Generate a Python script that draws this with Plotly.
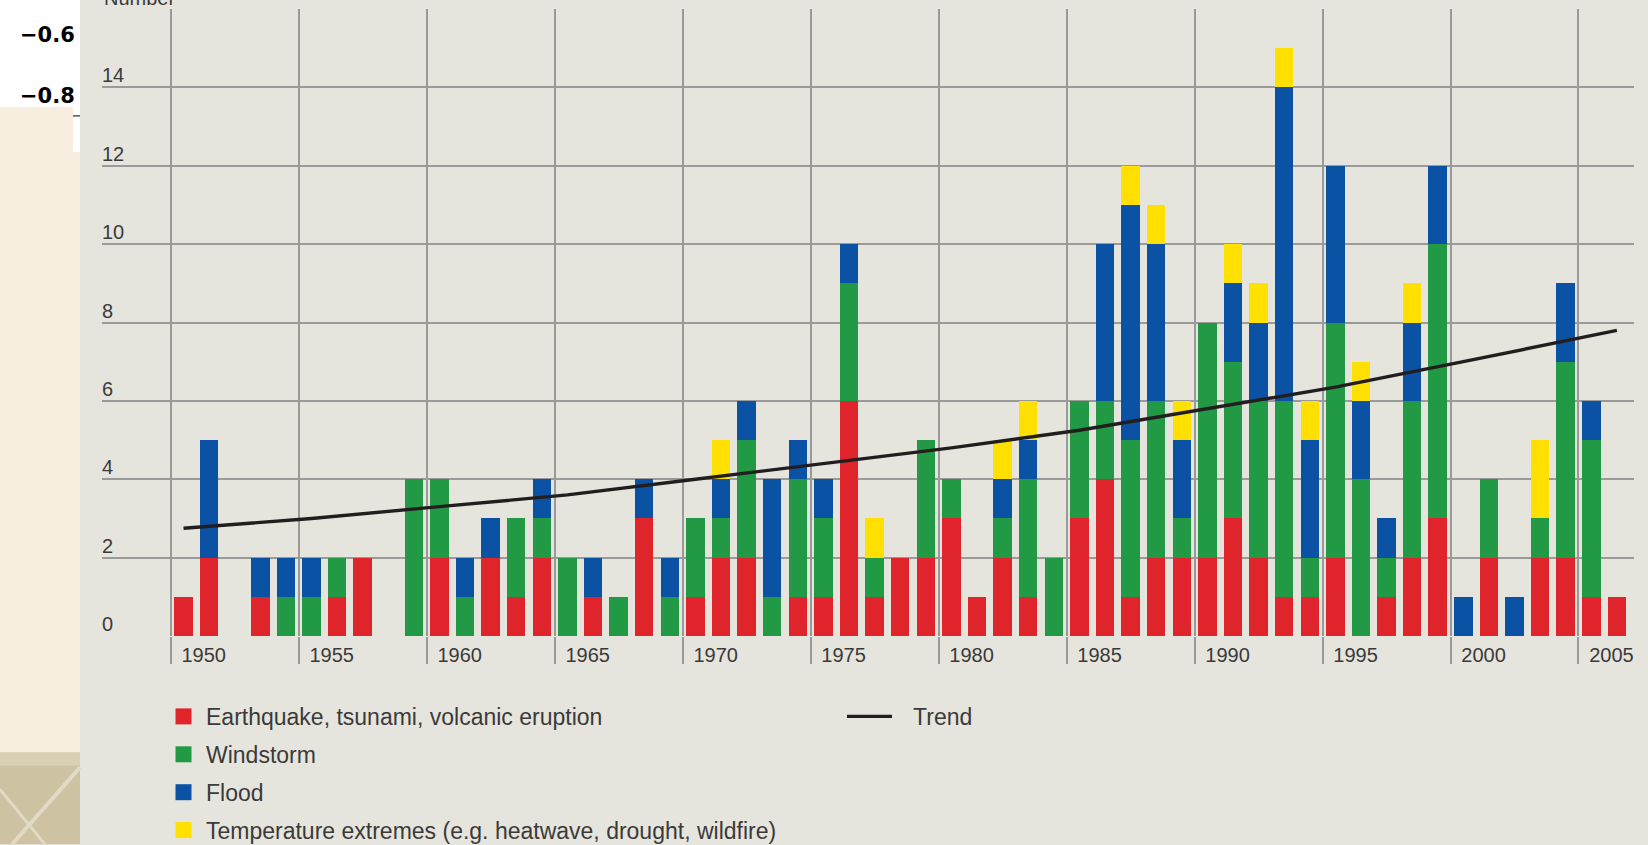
import plotly.graph_objects as go

# ---------------- data ----------------
years = list(range(1950, 2007))

earthquake = [1, 2, 0, 1, 0, 0, 1, 2, 0, 0,
              2, 0, 2, 1, 2, 0, 1, 0, 3, 0,
              1, 2, 2, 0, 1, 1, 6, 1, 2, 2,
              3, 1, 2, 1, 0, 3, 4, 1, 2, 2,
              2, 3, 2, 1, 1, 2, 0, 1, 2, 3,
              0, 2, 0, 2, 2, 1, 1]
windstorm = [0, 0, 0, 0, 1, 1, 1, 0, 0, 4,
             2, 1, 0, 2, 1, 2, 0, 1, 0, 1,
             2, 1, 3, 1, 3, 2, 3, 1, 0, 3,
             1, 0, 1, 3, 2, 3, 2, 4, 4, 1,
             6, 4, 4, 5, 1, 6, 4, 1, 4, 7,
             0, 2, 0, 1, 5, 4, 0]
flood = [0, 3, 0, 1, 1, 1, 0, 0, 0, 0,
         0, 1, 1, 0, 1, 0, 1, 0, 1, 1,
         0, 1, 1, 3, 1, 1, 1, 0, 0, 0,
         0, 0, 1, 1, 0, 0, 4, 6, 4, 2,
         0, 2, 2, 8, 3, 4, 2, 1, 2, 2,
         1, 0, 1, 0, 2, 1, 0]
temperature = [0, 0, 0, 0, 0, 0, 0, 0, 0, 0,
               0, 0, 0, 0, 0, 0, 0, 0, 0, 0,
               0, 1, 0, 0, 0, 0, 0, 1, 0, 0,
               0, 0, 1, 1, 0, 0, 0, 1, 1, 1,
               0, 1, 1, 1, 1, 0, 1, 0, 1, 0,
               0, 0, 0, 2, 0, 0, 0]

trend_years = [1950, 1955, 1960, 1965, 1970, 1975, 1980, 1985, 1990, 1995, 2000, 2005, 2006]
trend_values = [2.75, 3.0, 3.3, 3.6, 4.0, 4.4, 4.8, 5.25, 5.8, 6.35, 7.0, 7.65, 7.8]

label_years = [1950, 1955, 1960, 1965, 1970, 1975, 1980, 1985, 1990, 1995, 2000, 2005]
y_ticks = [0, 2, 4, 6, 8, 10, 12, 14, 16]
y_ticktext = ["0", "2", "4", "6", "8", "10", "12", "14", ""]

series_names = ["Earthquake, tsunami, volcanic eruption", "Windstorm", "Flood",
                "Temperature extremes (e.g. heatwave, drought, wildfire)"]
series_values = [earthquake, windstorm, flood, temperature]
series_colors = ["#e0242b", "#229a45", "#0b52a5", "#ffe000"]

# ---------------- styling ----------------
PANEL = "#e6e5dd"
GRID = "#9a9a9a"
BEIGE = "#f8eedf"
TEXT = "#3a3a3a"
FONT = "Liberation Sans, Arial, sans-serif"

fig = go.Figure()

for name, vals, col in zip(series_names, series_values, series_colors):
    fig.add_trace(go.Bar(
        x=years, y=vals, name=name, legendgroup=name, showlegend=False,
        marker=dict(color=col, line=dict(width=0)), width=0.72,
    ))

fig.add_trace(go.Scatter(
    x=trend_years, y=trend_values, mode="lines", name="\u2002\u2009Trend",
    line=dict(color="#221e1f", width=3.4), legend="legend2",
))

# legend proxies (square swatches)
for name, col in zip(series_names, series_colors):
    fig.add_trace(go.Scatter(
        x=[None], y=[None], mode="markers", name=name, legendgroup=name,
        marker=dict(symbol="square", size=20, color=col), showlegend=True,
    ))

# ---------------- layout ----------------
L, R, T, B = 102, 14, 9, 208.5
W, H = 1648, 845
pw = W - L - R
ph = H - T - B


def px(p):
    return (p - L) / pw


def py(q):
    return (H - B - q) / ph


shapes = [
    dict(type="rect", xref="paper", yref="paper", x0=px(0), x1=px(80), y0=py(107), y1=py(0),
         fillcolor="white", line=dict(width=0), layer="below"),
    dict(type="rect", xref="paper", yref="paper", x0=px(0), x1=px(80), y0=py(845), y1=py(107),
         fillcolor=BEIGE, line=dict(width=0), layer="below"),
    dict(type="rect", xref="paper", yref="paper", x0=px(73), x1=px(80), y0=py(152), y1=py(107),
         fillcolor="white", line=dict(width=0), layer="below"),
    dict(type="line", xref="paper", yref="paper", x0=px(73), x1=px(80), y0=py(116), y1=py(116),
         line=dict(color="black", width=1)),
    dict(type="rect", xref="paper", yref="paper", x0=px(0), x1=px(80), y0=py(845), y1=py(753),
         fillcolor="#cdc2a2", line=dict(width=0), layer="below"),
    dict(type="rect", xref="paper", yref="paper", x0=px(0), x1=px(80), y0=py(766), y1=py(753),
         fillcolor="#d9cfb3", line=dict(width=0), layer="below"),
    dict(type="line", xref="paper", yref="paper", x0=px(12), x1=px(80), y0=py(845), y1=py(768),
         line=dict(color="#e2dac4", width=4)),
    dict(type="line", xref="paper", yref="paper", x0=px(0), x1=px(45), y0=py(790), y1=py(845),
         line=dict(color="#e2dac4", width=3)),
]

annotations = [
    dict(text="−0.6", xref="paper", yref="paper", x=px(77), y=py(35), xanchor="right", yanchor="middle",
         showarrow=False, font=dict(family="DejaVu Sans", size=21, color="black", weight="bold")),
    dict(text="−0.8", xref="paper", yref="paper", x=px(77), y=py(96), xanchor="right", yanchor="middle",
         showarrow=False, font=dict(family="DejaVu Sans", size=21, color="black", weight="bold")),
    dict(text="Number", xref="paper", yref="paper", x=px(102), y=1, xanchor="left", yanchor="bottom",
         yshift=-2, showarrow=False, font=dict(family=FONT, size=20, color=TEXT)),
]

fig.update_layout(
    width=W, height=H,
    margin=dict(l=L, r=R, t=T, b=B, autoexpand=False),
    paper_bgcolor=PANEL, plot_bgcolor=PANEL,
    barmode="stack",
    showlegend=True,
    xaxis=dict(
        range=[1946.815, 2006.669],
        tickvals=[y - 0.5 for y in label_years],
        ticktext=[str(y) for y in label_years],
        showgrid=True, gridcolor=GRID, gridwidth=2,
        ticks="outside", ticklen=27, tickwidth=2, tickcolor=GRID,
        zeroline=False, showline=False,
        ticklabelshift=33, ticklabelstandoff=-26,
        tickfont=dict(family=FONT, size=20, color=TEXT),
        fixedrange=True, automargin=False,
    ),
    yaxis=dict(
        range=[0, 16],
        tickvals=y_ticks, ticktext=y_ticktext,
        showgrid=True, gridcolor=GRID, gridwidth=2,
        ticklabelposition="inside top", ticklabelstandoff=-3, ticklabelshift=2,
        zeroline=False, showline=False, ticks="",
        tickfont=dict(family=FONT, size=20, color=TEXT),
        fixedrange=True, automargin=False,
    ),
    legend=dict(
        x=px(161), y=py(695.5), xanchor="left", yanchor="top",
        bgcolor="rgba(0,0,0,0)", font=dict(family=FONT, size=23, color=TEXT),
        tracegroupgap=5, itemsizing="trace", traceorder="grouped", itemwidth=35,
    ),
    legend2=dict(
        x=px(842), y=py(695.5), xanchor="left", yanchor="top",
        bgcolor="rgba(0,0,0,0)", font=dict(family=FONT, size=23, color=TEXT),
        itemwidth=45,
    ),
    shapes=shapes,
    annotations=annotations,
)

fig.write_html("out.html",
               config={"displayModeBar": False},
               post_script="document.body.style.margin='0px';document.body.style.overflow='hidden';")
